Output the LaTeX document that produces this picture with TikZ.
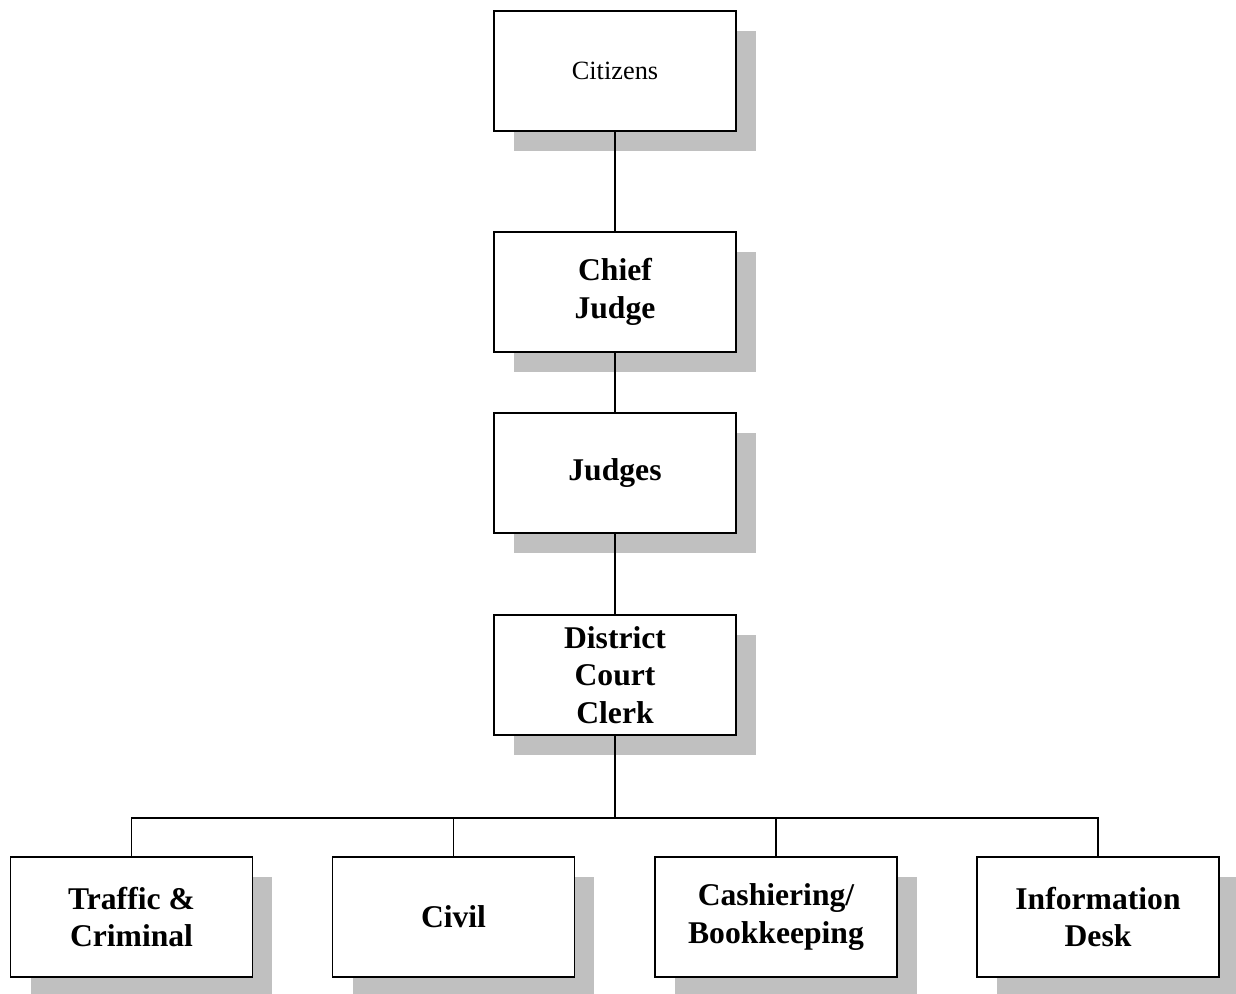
\documentclass[tikz,border=0pt]{standalone}
\usepackage{fontspec}
\setmainfont{Liberation Serif}
\usepackage{tikz}
\usetikzlibrary{shadows}
\definecolor{shadowgray}{RGB}{192,192,192}
\tikzset{
	main node/.style={rectangle,draw,line width=1.1pt,fill=white,align=center,
		minimum width=4.84cm,minimum height=2.4cm,inner sep=2pt,
		font=\fontsize{18}{21.5}\selectfont\bfseries,
		drop shadow={shadow xshift=0.4cm,shadow yshift=-0.4cm,fill=shadowgray,opacity=1}},
	top node/.style={main node,font=\fontsize{15}{18}\selectfont},
	link/.style={line width=0.8pt}
}

\begin{document}
\begin{tikzpicture}[x=0.02cm,y=-0.02cm]
	\useasboundingbox (0,0) rectangle (1236,993);
	\node [top node] (1) at (615,71) {Citizens};
	\node [main node] (2) at (615,292) {Chief\\Judge};
	\node [main node] (3) at (615,473) {Judges};
	\node [main node] (4) at (615,675) {District\\Court\\Clerk};
	\node [main node] (5) at (131.5,917) {Traffic \&\\Criminal};
	\node [main node] (6) at (453.5,917) {Civil};
	\node [main node] (7) at (776,917) {Cashiering/\\Bookkeeping};
	\node [main node] (8) at (1098,917) {Information\\Desk};
	\coordinate (bus) at (615,818);
	\draw [link] (1) -- (2);
	\draw [link] (2) -- (3);
	\draw [link] (3) -- (4);
	\draw [link] (4) -- (bus);
	\foreach \n in {5,6,7,8}
		\draw [link] (bus) -| (\n.north);
\end{tikzpicture}
\end{document}
